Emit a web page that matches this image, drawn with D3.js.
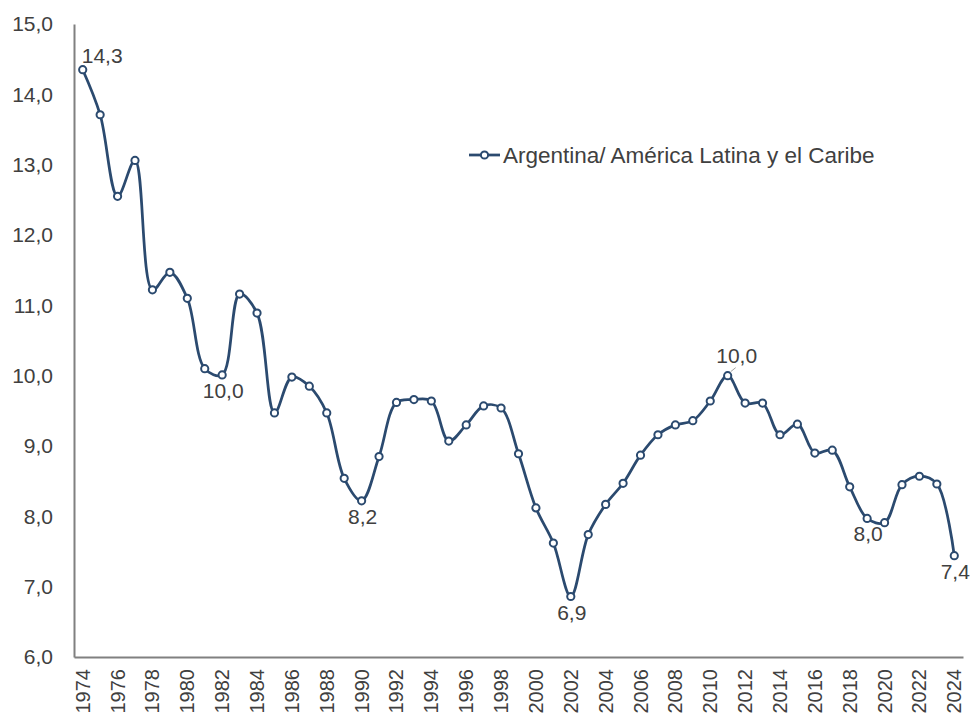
<!DOCTYPE html>
<html>
<head>
<meta charset="utf-8">
<script src="https://cdn.jsdelivr.net/npm/d3@7"></script>
<style>
  body { margin: 0; background: #fff; }
  svg { font-family: "Liberation Sans", Arial, sans-serif; }
</style>
</head>
<body>
<svg class="chart"></svg>
<script>
// Data
const years = d3.range(1974, 2025);
const values = [
  14.35, 13.71, 12.55, 13.06, 11.22, 11.47, 11.10, 10.10, 10.01, 11.16,
  10.89, 9.47, 9.98, 9.85, 9.47, 8.54, 8.22, 8.85, 9.62, 9.66,
  9.64, 9.07, 9.30, 9.57, 9.54, 8.89, 8.12, 7.62, 6.86, 7.74,
  8.17, 8.47, 8.87, 9.16, 9.30, 9.36, 9.64, 10.00, 9.61, 9.61,
  9.16, 9.31, 8.90, 8.94, 8.42, 7.97, 7.91, 8.45, 8.57, 8.46,
  7.44
];
const yTicks = [6, 7, 8, 9, 10, 11, 12, 13, 14, 15];
const xTickYears = years.filter(y => (y - 1974) % 2 === 0);
const seriesName = 'Argentina/ América Latina y el Caribe';
// labelled points and where their label sits
const labelYears = [1974, 1982, 1990, 2002, 2011, 2019, 2024];
const labelPlace = ['topright', 'below', 'below', 'below', 'above', 'below', 'below'];

const data = years.map((y, i) => ({ year: y, value: values[i] }));

const svgWidth = 973;
const svgHeight = 722;
const margin = { top: 24, right: 10, bottom: 65, left: 74 };
const chartWidth = 963 - margin.left;
const chartHeight = 657 - margin.top;

const lineColor = '#2b4a6f';
const textColor = '#404040';
const axisColor = '#808080';

const svg = d3.select('.chart')
  .attr('width', svgWidth)
  .attr('height', svgHeight);

const chart = svg.append('g')
  .attr('transform', 'translate(' + margin.left + ',' + margin.top + ')');

const xScale = d3.scaleBand()
  .domain(years)
  .range([0, chartWidth])
  .padding(0);

const yScale = d3.scaleLinear()
  .domain([6, 15])
  .range([chartHeight, 0]);

const xc = d => xScale(d.year) + xScale.bandwidth() / 2;
const fmt = v => d3.format('.1f')(v).replace('.', ',');

// y axis
const yAxisGroup = chart.append('g')
  .call(d3.axisLeft(yScale).tickValues(yTicks).tickSize(0).tickPadding(21).tickFormat(fmt));
yAxisGroup.select('.domain').attr('stroke', axisColor).attr('stroke-width', 2);
yAxisGroup.selectAll('text')
  .attr('fill', textColor)
  .attr('font-size', '21px');

// x axis
const xAxisGroup = chart.append('g')
  .attr('transform', 'translate(0,' + chartHeight + ')')
  .call(d3.axisBottom(xScale).tickValues(xTickYears).tickSize(0));
xAxisGroup.select('.domain').attr('stroke', axisColor).attr('stroke-width', 2);
xAxisGroup.selectAll('text')
  .attr('fill', textColor)
  .attr('font-size', '20px')
  .attr('text-anchor', 'end')
  .attr('dy', null)
  .attr('transform', 'rotate(-90)')
  .attr('x', -12)
  .attr('y', 0)
  .attr('dominant-baseline', 'central');

// line
const line = d3.line()
  .x(xc)
  .y(d => yScale(d.value))
  .curve(d3.curveCatmullRom.alpha(0.5));

chart.append('path')
  .datum(data)
  .attr('fill', 'none')
  .attr('stroke', lineColor)
  .attr('stroke-width', 2.75)
  .attr('d', line);

chart.selectAll('.marker')
  .data(data)
  .enter()
  .append('circle')
  .attr('class', 'marker')
  .attr('cx', xc)
  .attr('cy', d => yScale(d.value))
  .attr('r', 3.6)
  .attr('fill', '#fff')
  .attr('stroke', lineColor)
  .attr('stroke-width', 2);

// data labels
const labels = labelYears.map((y, i) => ({
  year: y,
  value: data.find(d => d.year === y).value,
  place: labelPlace[i]
}));

chart.selectAll('.leader')
  .data(labels.filter(d => d.place === 'above'))
  .enter()
  .append('line')
  .attr('x1', d => xc(d) + 3)
  .attr('y1', d => yScale(d.value) - 4)
  .attr('x2', d => xc(d) + 8)
  .attr('y2', d => yScale(d.value) - 8)
  .attr('stroke', '#a0a0a0')
  .attr('stroke-width', 1);

chart.selectAll('.data-label')
  .data(labels)
  .enter()
  .append('text')
  .attr('class', 'data-label')
  .attr('x', d => d.place === 'topright' ? xc(d) - 1 : d.place === 'above' ? xc(d) + 9 : xc(d) + 1)
  .attr('y', d => d.place === 'topright' ? yScale(d.value) - 7
    : d.place === 'above' ? yScale(d.value) - 13
    : yScale(d.value) + 23)
  .attr('text-anchor', d => d.place === 'topright' ? 'start' : 'middle')
  .attr('fill', textColor)
  .attr('font-size', '21px')
  .text(d => fmt(d.value));

// legend
const legend = svg.append('g')
  .attr('transform', 'translate(469,155)');
legend.append('line')
  .attr('x1', 0).attr('x2', 31).attr('y1', 0).attr('y2', 0)
  .attr('stroke', lineColor).attr('stroke-width', 2.75);
legend.append('circle')
  .attr('cx', 15.5).attr('cy', 0).attr('r', 3.6)
  .attr('fill', '#fff').attr('stroke', lineColor).attr('stroke-width', 2);
legend.append('text')
  .attr('x', 34)
  .attr('y', 0)
  .attr('dominant-baseline', 'central')
  .attr('fill', textColor)
  .attr('font-size', '22.5px')
  .text(seriesName);
</script>
</body>
</html>
